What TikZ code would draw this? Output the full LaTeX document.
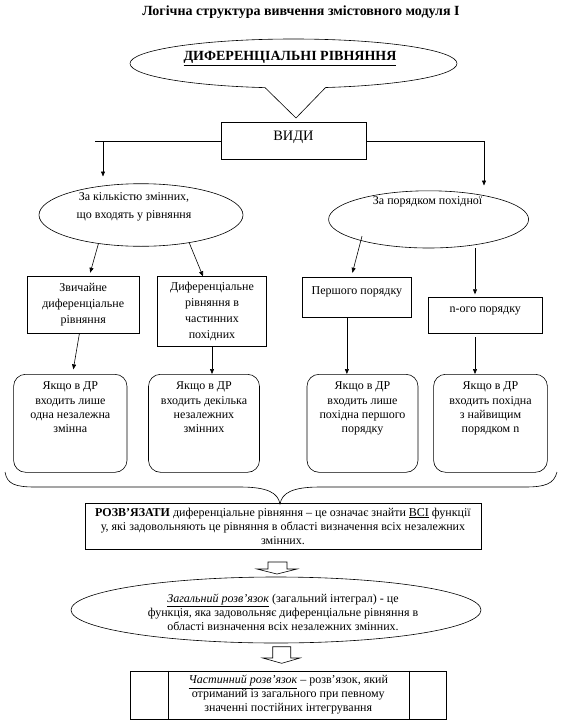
\documentclass[tikz,border=0pt]{standalone}
\usepackage{fontspec}
\setmainfont{Liberation Serif}
\usetikzlibrary{shapes.geometric, arrows.meta}

\begin{document}
\begin{tikzpicture}[
	x=1pt, y=-1pt,
	line width=0.6pt,
	txt/.style={align=center, font=\fontsize{12}{14.3}\selectfont},
	box/.style={draw, rectangle, inner sep=0pt, align=center, font=\fontsize{12}{16}\selectfont},
	rbox/.style={draw, rectangle, rounded corners=12pt, inner sep=0pt, minimum height=98pt, align=center, text depth=32pt, font=\fontsize{12}{14.3}\selectfont},
	oval/.style={draw, ellipse, inner sep=0pt, fill=white},
	arrow/.style={-{Triangle[length=5pt, width=4pt]}}
]
	\useasboundingbox (0,0) rectangle (561,725);

	\node (title) [font=\fontsize{14}{16}\selectfont\bfseries] at (301,12.5) {Логічна структура вивчення змістовного модуля І};

	% callout
	\node (dr) [oval, minimum width=327pt, minimum height=49pt, label={[font=\fontsize{14}{16}\selectfont\bfseries, xshift=-3.5pt, yshift=5.2pt]center:\underline{ДИФЕРЕНЦІАЛЬНІ РІВНЯННЯ}}] at (293.5,63.5) {};
	\fill[white] (265,84) -- (325.6,84) -- (325.6,87.5) -- (296,118) -- (265,87.6) -- cycle;
	\draw (265,87.6) -- (296,118) -- (325.6,87.5);

	\node (vidy) [draw, minimum width=145pt, minimum height=37pt, inner sep=0pt, font=\fontsize{14.4}{16}\selectfont, text depth=9pt] at (293.5,140.5) {ВИДИ};

	\coordinate (hl) at (95,141);
	\coordinate (hr) at (484,141);
	\coordinate (al) at (103,141);
	\draw (vidy.west |- hl) -- (hl);
	\draw (vidy.east |- hr) -- (hr);
	\draw[arrow] (al) -- ++(0,35.5);
	\draw[arrow] (hr) -- ++(0,44.5);

	\node (kol) [oval, minimum width=204pt, minimum height=62.6pt, label={[txt, font=\fontsize{12}{18}\selectfont, xshift=-7pt, yshift=8.5pt]center:{За кількістю змінних,\\що входять у рівняння}}] at (141,215) {};
	\node (por) [oval, minimum width=200pt, minimum height=57.2pt, label={[txt, xshift=-1pt, yshift=17.8pt]center:{За порядком похідної}}] at (428.6,219.4) {};

	% first row
	\node (zv) [box, minimum width=112.7pt, minimum height=56.5pt] at (83.2,305) {Звичайне\\диференціальне\\рівняння};
	\node (dp) [box, minimum width=109pt, minimum height=70pt] at (212,311.6) {Диференціальне\\рівняння в\\частинних\\похідних};
	\node (pp) [box, minimum width=109pt, minimum height=40pt, text depth=11.5pt] at (356.9,296.8) {Першого порядку};
	\node (np) [box, minimum width=113.4pt, minimum height=36.2pt, text depth=11.5pt] at (485.3,315.1) {n-ого порядку};

	\draw[arrow] (kol.214) -- ([xshift=7pt, yshift=3.7pt]zv.north);
	\draw[arrow] (kol.330) -- ([xshift=-9pt]dp.north);
	\draw[arrow] ([yshift=5pt]por.198) -- ([xshift=-4.5pt, yshift=3.7pt]pp.north);
	\draw[arrow] ([xshift=-10.3pt]np.north |- por.south) -- ([xshift=-10.3pt, yshift=2.4pt]np.north);

	% second row
	\node (yak1) [rbox, minimum width=113.4pt] at (70.3,423.3) {Якщо в ДР\\входить лише\\одна незалежна\\змінна};
	\node (yak2) [rbox, minimum width=111pt] at (204,423.3) {Якщо в ДР\\входить декілька\\незалежних\\змінних};
	\node (yak3) [rbox, minimum width=111pt] at (362.5,423.3) {Якщо в ДР\\входить лише\\похідна першого\\порядку};
	\node (yak4) [rbox, minimum width=113.8pt] at (490.5,423.3) {Якщо в ДР\\входить похідна\\з найвищим\\порядком n};

	\draw[arrow] ([xshift=-3.8pt]zv.south) -- ([xshift=3pt, yshift=4.6pt]yak1.north);
	\draw[arrow] (dp.south) -- (dp.south |- yak2.north);
	\draw[arrow] ([xshift=-10pt]pp.south) -- ([xshift=-10pt]pp.south |- yak3.north);
	\draw[arrow] ([xshift=-10.3pt, yshift=-3.6pt]np.south) -- ([xshift=-10.3pt]np.south |- yak4.north);

	% brace
	\draw (5,472) .. controls (7,484) and (15,487) .. (35,487) -- (240,487) .. controls (268,487) and (278,493) .. (280,504) .. controls (282,493) and (292,487) .. (320,487) -- (525,487) .. controls (545,487) and (554,484) .. (557,472);

	\node (rozv) [draw, rectangle, inner sep=0pt, minimum width=396pt, minimum height=46pt, txt, font=\fontsize{12}{14}\selectfont] at (283,526) {\textbf{РОЗВ’ЯЗАТИ} диференціальне рівняння – це означає знайти \underline{ВСІ} функції\\у, які задовольняють це рівняння в області визначення всіх незалежних\\змінних.};

	\draw[fill=white] (268,562) -- (287,562) -- (287,569) -- (297,569) -- (277,574) -- (257,569) -- (268,569) -- cycle;

	\node (zag) [oval, minimum width=410pt, minimum height=66pt, label={[txt, xshift=7pt, yshift=-2.5pt]center:{\underline{\textit{Загальний розв’язок}} (загальний інтеграл) - це\\функція, яка задовольняє диференціальне рівняння в\\області визначення всіх незалежних змінних.}}] at (276,610) {};

	\draw[fill=white] (272.7,646.7) -- (290.7,646.7) -- (290.7,658) -- (300,658) -- (281.7,663.3) -- (262.7,658) -- (272.7,658) -- cycle;

	\node (chast) [draw, rectangle, inner sep=0pt, minimum width=316.5pt, minimum height=48pt, txt, font=\fontsize{12}{14}\selectfont] at (288.3,695) {\underline{\textit{Частинний розв’язок}} – розв’язок, який\\отриманий із загального при певному\\значенні постійних інтегрування};
	\draw ([xshift=39pt]chast.north west) -- ([xshift=39pt]chast.south west);
	\draw ([xshift=-37.5pt]chast.north east) -- ([xshift=-37.5pt]chast.south east);

\end{tikzpicture}
\end{document}
